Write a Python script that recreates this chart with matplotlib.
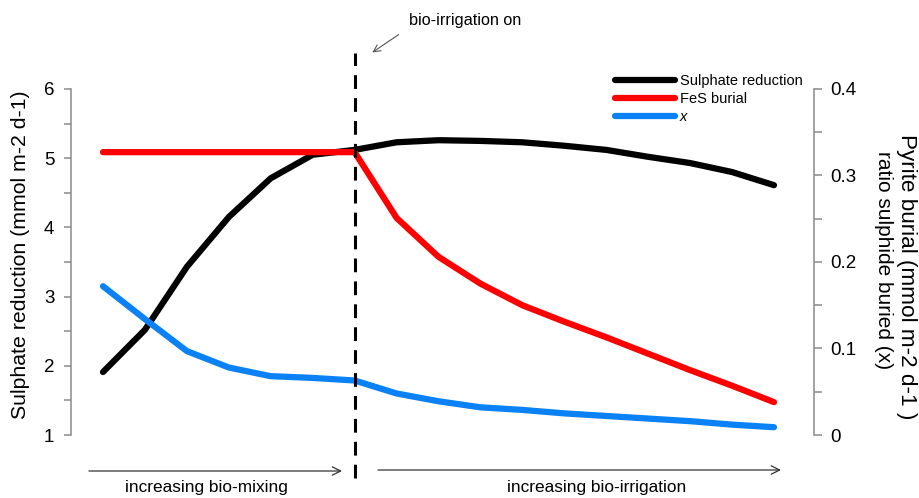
import matplotlib
matplotlib.use("Agg")
import matplotlib.pyplot as plt
import numpy as np

plt.rcParams["font.family"] = ["Liberation Sans", "DejaVu Sans"]

# model runs: first bio-mixing is increased, then bio-irrigation is switched on
runs = np.arange(17)
switch_run = 6

sulphate_reduction = [1.91, 2.52, 3.43, 4.15, 4.71, 5.05, 5.12, 5.23, 5.26,
                      5.25, 5.23, 5.18, 5.12, 5.02, 4.93, 4.80, 4.61]
fes_burial = [0.327, 0.327, 0.327, 0.327, 0.327, 0.327, 0.327, 0.251, 0.206,
              0.175, 0.150, 0.131, 0.113, 0.094, 0.075, 0.057, 0.038]
x_ratio = [0.172, 0.134, 0.097, 0.078, 0.068, 0.066, 0.063, 0.048, 0.039,
           0.032, 0.029, 0.025, 0.022, 0.019, 0.016, 0.012, 0.009]

left_ticks = [1, 2, 3, 4, 5, 6]
right_ticks = [0, 0.1, 0.2, 0.3, 0.4]
right_labels = ["0", "0.1", "0.2", "0.3", "0.4"]

W, H = 919, 498
fig = plt.figure(figsize=(W / 100, H / 100), dpi=100)
ax = fig.add_axes([71 / W, 1 - 435 / H, (814 - 71) / W, (435 - 89) / H])
ax2 = ax.twinx()

spine_col = "#8a8a8a"
for a in (ax, ax2):
    a.spines["top"].set_visible(False)
    a.spines["bottom"].set_visible(False)
    a.patch.set_visible(False)
ax.spines["right"].set_visible(False)
ax2.spines["left"].set_visible(False)
ax.spines["left"].set_color(spine_col)
ax2.spines["right"].set_color(spine_col)
ax.spines["left"].set_linewidth(1.1)
ax2.spines["right"].set_linewidth(1.1)

ax.set_xlim(-0.763, 16.954)
ax.set_xticks([])
ax.set_ylim(1, 6)
ax.set_yticks(left_ticks)
ax.set_yticks(np.arange(1.5, 6, 1.0), minor=True)
ax.tick_params(axis="y", which="both", length=5, width=1.1, color=spine_col,
               labelsize=13.5, pad=7)

ax2.set_ylim(0, 0.4)
ax2.set_yticks(right_ticks)
ax2.set_yticklabels(right_labels)
ax2.set_yticks([0.05, 0.15, 0.25, 0.35], minor=True)
ax2.tick_params(axis="y", which="both", length=6, width=1.1, color=spine_col,
                labelsize=13.5, pad=6)

l1, = ax.plot(runs, sulphate_reduction, color="black", lw=4.5,
              solid_capstyle="round", solid_joinstyle="round", zorder=3)
l2, = ax2.plot(runs, fes_burial, color="#ff0000", lw=4.5,
               solid_capstyle="round", solid_joinstyle="round", zorder=3)
l3, = ax2.plot(runs, x_ratio, color="#0a82f5", lw=4.5,
               solid_capstyle="round", solid_joinstyle="round", zorder=3)

# axis titles placed in figure pixels
fig.text(21 / W, 1 - 255 / H, "Sulphate reduction (mmol m-2 d-1)",
         fontsize=15.3, rotation=90, ha="center", va="center")
fig.text(906 / W, 1 - 277 / H, "Pyrite burial (mmol m-2 d-1 )",
         fontsize=16.2, rotation=-90, ha="center", va="center")
fig.text(883 / W, 1 - 260 / H, "ratio sulphide buried (x)",
         fontsize=15, rotation=-90, ha="center", va="center")

# switch-over marker
ax2.axvline(switch_run, ymin=-0.124, ymax=1.104, color="black", lw=2.2,
            ls=(0, (4.5, 3)), clip_on=False, zorder=4)

leg = ax2.legend([l1, l2, l3], ["Sulphate reduction", "FeS burial", "x"],
                 loc="upper left", bbox_to_anchor=(615 / W, 1 - 74 / H),
                 bbox_transform=fig.transFigure, frameon=False, fontsize=10.5,
                 handlelength=4.1, handletextpad=0.35, labelspacing=0.27,
                 borderpad=0, borderaxespad=0)
leg.get_texts()[2].set_style("italic")

# annotations in figure pixels
fig.text(409 / W, 1 - 21 / H, "bio-irrigation on", fontsize=11.7,
         ha="left", va="center")
fig.add_artist(matplotlib.patches.FancyArrowPatch(
    (401 / W, 1 - 33 / H), (370 / W, 1 - 54 / H), transform=fig.transFigure,
    arrowstyle="->,head_length=5,head_width=2.5", color="#555555", lw=0.8))

for (x0, x1, y) in [(89, 342, 471), (378, 781, 470)]:
    fig.add_artist(matplotlib.patches.FancyArrowPatch(
        (x0 / W, 1 - y / H), (x1 / W, 1 - y / H), transform=fig.transFigure,
        arrowstyle="->,head_length=6,head_width=3", color="#333333", lw=0.9,
        shrinkA=0, shrinkB=0))
fig.text(206 / W, 1 - 487 / H, "increasing bio-mixing", fontsize=12.4,
         ha="center", va="center")
fig.text(597 / W, 1 - 487 / H, "increasing bio-irrigation", fontsize=12.4,
         ha="center", va="center")

fig.savefig("out.png", dpi=100)
